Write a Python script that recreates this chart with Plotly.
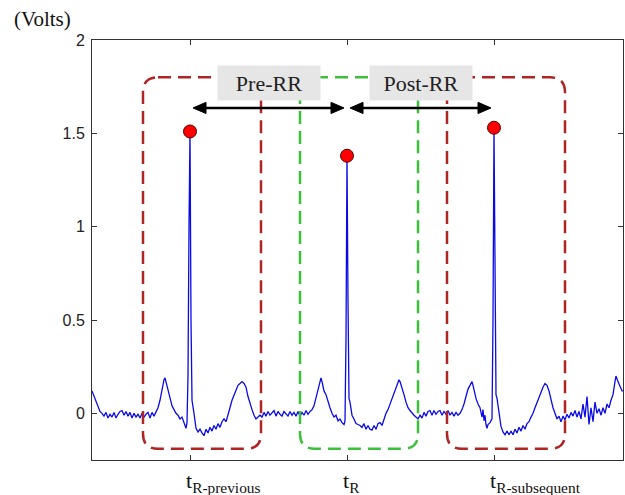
import plotly.graph_objects as go

# ECG trace (sample index, volts)
ecg_sample = [92, 94, 96, 98, 100, 102, 104, 106, 108, 110, 112, 114, 116, 118, 120, 122, 124, 126, 128, 130,
              132, 134, 136, 138, 140, 142, 144, 146, 148, 150, 152, 154, 156, 158, 160, 162, 164, 165, 166, 168,
              170, 172, 174, 176, 178, 180, 182, 184, 185, 186, 187, 188, 189, 190, 191, 192, 194, 196, 198, 200,
              202, 204, 206, 208, 210, 212, 214, 216, 218, 220, 222, 224, 226, 228, 230, 232, 234, 236, 238, 240,
              242, 244, 246, 248, 250, 252, 254, 256, 258, 260, 262, 264, 266, 268, 270, 272, 274, 276, 278, 280,
              282, 284, 286, 288, 290, 292, 294, 296, 298, 300, 302, 304, 306, 308, 310, 312, 314, 316, 318, 320,
              321, 322, 324, 326, 328, 330, 332, 334, 336, 338, 340, 342, 344, 345, 346, 347, 348, 349, 350, 352,
              354, 356, 358, 360, 362, 364, 366, 368, 370, 372, 374, 376, 378, 380, 382, 384, 386, 388, 390, 392,
              394, 396, 398, 399, 400, 402, 404, 406, 408, 410, 412, 414, 416, 418, 420, 422, 424, 426, 428, 430,
              432, 434, 436, 438, 440, 442, 444, 446, 448, 450, 452, 454, 456, 458, 460, 462, 464, 466, 468, 470,
              472, 473, 474, 476, 478, 480, 482, 483, 484, 485, 486, 487, 488, 490, 492, 493, 494, 495, 496, 497,
              499, 501, 503, 505, 507, 509, 511, 513, 515, 517, 519, 521, 523, 525, 527, 529, 531, 533, 535, 537,
              539, 541, 543, 545, 547, 549, 551, 553, 555, 557, 559, 561, 563, 565, 567, 569, 571, 573, 575, 577,
              579, 581, 583, 585, 587, 589, 591, 593, 595, 597, 599, 601, 603, 605, 607, 609, 611, 613, 615, 616,
              618, 620, 622, 623]
ecg_volts = [0.12, 0.09, 0.06, 0.03, 0.01, 0.0, -0.015, 0.005, -0.025, -0.005, -0.02, 0.005, -0.025, -0.005, 0.01, 0.015, -0.01, 0.01, -0.015, 0.005,
             -0.025, 0.0, -0.02, -0.005, -0.025, 0.0, -0.02, -0.005, 0.005, -0.025, 0.005, -0.015, 0.01, 0.03, 0.07, 0.13, 0.18, 0.19, 0.17, 0.13,
             0.08, 0.04, 0.02, 0.0, -0.01, -0.03, -0.02, -0.05, -0.07, -0.08, -0.05, 0.2, 1.0, 1.51, 0.5, 0.07, 0.0, -0.08, -0.1, -0.085,
             -0.105, -0.12, -0.085, -0.105, -0.075, -0.095, -0.065, -0.085, -0.055, -0.075, -0.045, -0.03, -0.045, 0.0, 0.03, 0.07, 0.1, 0.13, 0.15, 0.16,
             0.17, 0.16, 0.14, 0.09, 0.05, 0.02, -0.01, -0.03, -0.02, -0.01, -0.02, 0.005, -0.015, 0.01, -0.01, 0.005, 0.015, -0.015, 0.01, -0.005,
             -0.015, 0.01, -0.005, -0.015, 0.01, -0.01, 0.005, -0.015, 0.01, -0.015, 0.005, -0.01, 0.015, -0.005, 0.01, 0.02, 0.04, 0.08, 0.12, 0.17,
             0.19, 0.17, 0.12, 0.1, 0.06, 0.03, 0.0, -0.02, -0.01, -0.04, -0.03, -0.05, -0.06, -0.04, 0.4, 1.38, 0.6, 0.08, 0.06, -0.01,
             -0.03, -0.055, -0.06, -0.065, -0.075, -0.055, -0.085, -0.065, -0.085, -0.09, -0.065, -0.085, -0.055, -0.05, -0.065, -0.03, 0.0, 0.02, 0.05, 0.08,
             0.11, 0.14, 0.16, 0.18, 0.17, 0.14, 0.1, 0.06, 0.03, 0.015, 0.0, -0.01, -0.02, -0.03, -0.01, -0.025, 0.005, -0.015, 0.01, 0.015,
             -0.01, 0.015, -0.005, 0.01, 0.015, -0.01, 0.01, -0.005, 0.015, -0.01, 0.005, -0.015, 0.005, -0.01, 0.0, 0.02, 0.05, 0.09, 0.13, 0.15,
             0.17, 0.15, 0.12, 0.08, 0.05, 0.03, -0.02, 0.02, -0.04, -0.01, -0.06, -0.08, -0.06, -0.05, -0.03, 0.5, 1.53, 0.6, 0.1, 0.08,
             0.0, -0.07, -0.1, -0.115, -0.095, -0.115, -0.095, -0.115, -0.085, -0.105, -0.075, -0.095, -0.065, -0.085, -0.055, -0.045, -0.02, 0.0, 0.03, 0.06,
             0.09, 0.12, 0.14, 0.16, 0.15, 0.12, 0.07, 0.03, 0.0, -0.03, -0.015, -0.045, -0.015, -0.035, -0.005, -0.025, 0.005, -0.015, 0.015, -0.02,
             0.01, -0.03, 0.05, -0.02, 0.09, -0.06, 0.03, -0.045, 0.06, 0.0, 0.025, -0.01, 0.03, 0.0, 0.05, 0.03, 0.07, 0.1, 0.17, 0.2,
             0.17, 0.14, 0.12, 0.12]

# R peaks
r_peak_sample = [190, 347, 494]
r_peak_volts = [1.51, 1.38, 1.53]
tick_labels = ["t<sub>R-previous</sub>", "t<sub>R</sub>", "t<sub>R-subsequent</sub>"]
y_ticks = [0, 0.5, 1, 1.5, 2]
y_tick_labels = ["0", "0.5", "1", "1.5", "2"]
interval_labels = ["Pre-RR", "Post-RR"]
box_colors = ["#b02424", "#3cc03c", "#b02424"]

fig = go.Figure()
fig.add_trace(go.Scatter(x=ecg_sample, y=ecg_volts, mode="lines",
                         line=dict(color="#0a0ae6", width=1.3), hoverinfo="skip"))
fig.add_trace(go.Scatter(x=r_peak_sample, y=r_peak_volts, mode="markers",
                         marker=dict(color="#ff0000", size=13, line=dict(color="#550000", width=1))))

# rounded dashed windows around each R peak
before, after = 47, 71
y_top, y_bot = 1.80, -0.19
rx, ry = 15, 0.08
for xp, col in zip(r_peak_sample, box_colors):
    x0, x1 = xp - before, xp + after
    path = (f"M {x0+rx},{y_top} L {x1-rx},{y_top} Q {x1},{y_top} {x1},{y_top-ry} "
            f"L {x1},{y_bot+ry} Q {x1},{y_bot} {x1-rx},{y_bot} L {x0+rx},{y_bot} "
            f"Q {x0},{y_bot} {x0},{y_bot+ry} L {x0},{y_top-ry} Q {x0},{y_top} {x0+rx},{y_top} Z")
    fig.add_shape(type="path", path=path, xref="x", yref="y",
                  line=dict(color=col, width=2.5, dash="13px,7px"))

# double arrows (line + filled heads) and interval labels
arrow_y = 1.636
label_y = 1.77
head_len, head_half = 13, 0.03
for i, lab in enumerate(interval_labels):
    a, b = r_peak_sample[i] + 3, r_peak_sample[i + 1] - 3
    fig.add_shape(type="line", x0=a + 4, x1=b - 4, y0=arrow_y, y1=arrow_y, xref="x", yref="y",
                  line=dict(color="black", width=2.4))
    for tip, back in ((a, a + head_len), (b, b - head_len)):
        fig.add_shape(type="path", xref="x", yref="y",
                      path=f"M {tip},{arrow_y} L {back},{arrow_y + head_half} L {back},{arrow_y - head_half} Z",
                      fillcolor="black", line=dict(color="black", width=1))
    fig.add_annotation(x=(r_peak_sample[i] + r_peak_sample[i + 1]) / 2, y=label_y, xref="x", yref="y",
                       text=lab, showarrow=False, bgcolor="#e6e6e6", width=100, height=32,
                       font=dict(family="Liberation Serif", size=22, color="#222"))

# x tick labels
for xp, lab in zip(r_peak_sample, tick_labels):
    fig.add_annotation(x=xp, y=0, xref="x", yref="paper", text=lab, showarrow=False,
                       xanchor="left", yanchor="top", xshift=-6, yshift=-6,
                       font=dict(family="Liberation Serif", size=22, color="#111"))

fig.add_annotation(x=0, y=1, xref="paper", yref="paper", text="(Volts)", showarrow=False,
                   xanchor="left", yanchor="middle", xshift=-80, yshift=21,
                   font=dict(family="Liberation Serif", size=21, color="#111"))

fig.update_xaxes(range=[92, 623], tickvals=r_peak_sample, showticklabels=False,
                 ticks="inside", ticklen=5, tickcolor="#333", showline=True, linecolor="#333",
                 linewidth=1, mirror="ticks", showgrid=False, zeroline=False)
fig.update_yaxes(range=[-0.25, 2], tickvals=y_ticks, ticktext=y_tick_labels,
                 ticks="inside", ticklen=5, tickcolor="#333", showline=True, linecolor="#333",
                 linewidth=1, mirror="ticks", showgrid=False, zeroline=False,
                 tickfont=dict(family="Liberation Sans", size=16, color="#222"),
                 ticklabelstandoff=3)
fig.update_layout(width=625, height=495, margin=dict(l=92, r=2, t=40, b=35),
                  paper_bgcolor="white", plot_bgcolor="white", showlegend=False)

fig.write_html("out.html")
